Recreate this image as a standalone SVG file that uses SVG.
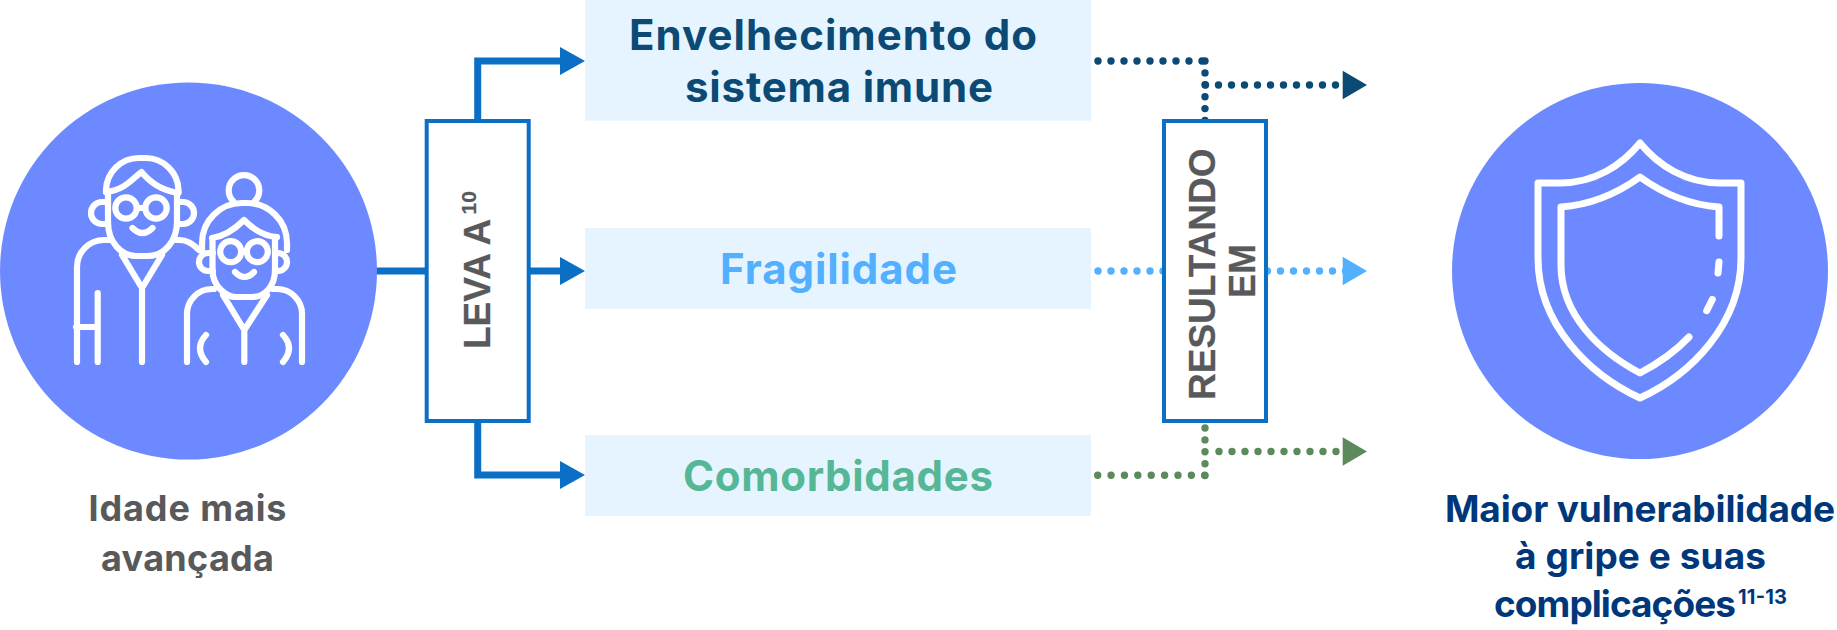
<svg xmlns="http://www.w3.org/2000/svg" width="1837" height="630" viewBox="0 0 1837 630">
<style>
text{font-family:"Inter","Liberation Sans",sans-serif;font-weight:700}
.big{font-size:42px;text-anchor:middle}
.lab{font-size:36px;fill:#58595b;text-anchor:middle}
.res{font-size:37px;fill:#00377b}
.sup{font-size:20px;fill:#00377b}
.vert{font-family:"Liberation Sans",sans-serif;font-size:37px;fill:#58595b;stroke:#58595b;stroke-width:.25}
.circle{fill:#6d89ff}
.band{fill:#e6f4ff}
.box{fill:#fff;stroke:#0b6fc6;stroke-width:4}
.icon{fill:none;stroke:#fff;stroke-width:6.2;stroke-linecap:round;stroke-linejoin:round}
.solid{fill:none;stroke:#0b6fc6;stroke-width:7}
.dot{fill:none;stroke-width:7.4;stroke-linecap:round;stroke-dasharray:0 13}
.dotv{fill:none;stroke-width:7.4;stroke-linecap:round;stroke-dasharray:0 11.9}
</style>
<g id="connectors">
<path class="solid" d="M376,271H426M530,271H562M477.7,119V61H562M477.7,423V475H562"/>
<path fill="#0b6fc6" d="M560,47L585,61L560,75ZM560,257L585,271L560,285ZM560,461L585,475L560,489Z"/>
<path class="dot" stroke="#0b4a75" d="M1098,61H1205"/>
<path class="dotv" stroke="#0b4a75" d="M1205,61V122"/>
<path class="dot" stroke="#0b4a75" d="M1205.5,85H1340"/>
<path fill="#0b4a75" d="M1342.7,70.7L1367,85L1342.7,99.3Z"/>
<path class="dot" stroke="#53b0ff" d="M1098,271H1165"/>
<path class="dot" stroke="#53b0ff" d="M1267.5,271H1346"/>
<path fill="#53b0ff" d="M1342.7,256.7L1367,271L1342.7,285.3Z"/>
<path class="dot" stroke="#5d8a5c" style="stroke-dasharray:0 13.38" d="M1097.7,475.3H1205"/>
<path class="dotv" stroke="#5d8a5c" d="M1205,428V476"/>
<path class="dot" stroke="#5d8a5c" d="M1219,451.5H1337"/>
<path fill="#5d8a5c" d="M1342.7,437.3L1367,451.5L1342.7,465.7Z"/>
</g>
<g id="node-idade">
<circle class="circle" cx="188.5" cy="271" r="188.5"/>
<g class="icon">
<path d="M106,192V190A33,33 0 0 1 139,158H146A33,33 0 0 1 178.5,190V192"/>
<path d="M106,192C125,190 133,178 141.5,172C150,182 160,190 178.5,193"/>
<path d="M108,192V222C108,243 122,256 136,256H148C165,256 177,240 177,222V192"/>
<path d="M108,202H102A11,11 0 0 0 102,224H108M177,202H183A11,11 0 0 1 183,224H177"/>
<circle cx="126" cy="208" r="10.7"/><circle cx="156" cy="208" r="10.7"/>
<path d="M137,208H145M132.5,228Q142.5,238 152.5,228"/>
<path d="M110,240H104A27,27 0 0 0 77,267V362M97.7,293V362M76,327H97.7"/>
<path d="M122,255L142,288L162,255M142,288V362"/>
<path d="M175,240H180C188,240 194,245 199,250"/>
<path d="M233,201A15.3,15.3 0 1 1 255,201"/>
<path d="M202,250V243A40,40 0 0 1 242,203H247A40,40 0 0 1 287,243V250"/>
<path d="M212,238C226,236 236,228 244,220C252,228 262,236 277,237"/>
<path d="M212.5,238V270C212.5,286 226,297 236,297H252C265,297 275,286 275,270V238"/>
<path d="M213,253H208A9,9 0 0 0 208,271H213M275,253H278A9,9 0 0 1 278,271H275"/>
<circle cx="230.7" cy="251.7" r="10.5"/><circle cx="257.3" cy="251.7" r="10.5"/>
<path d="M241.2,251.7H246.8M235,272Q244.5,282 254,272"/>
<path d="M214,289H212A25,25 0 0 0 187,314V362M273,289H277A25,25 0 0 1 302,314V362"/>
<path d="M223,295L244.3,330L267,295M244.3,330V362"/>
<path d="M206,335Q194,348 206,362M283,335Q295,348 283,362"/>
</g>
<text class="lab"><tspan x="187.5" y="521" textLength="198">Idade mais</tspan><tspan x="187.5" y="571" textLength="173">avançada</tspan></text>
</g>
<g id="node-leva">
<rect class="box" x="426.7" y="121" width="102" height="300"/>
<text class="vert" transform="translate(490,349) rotate(-90)">LEVA A</text>
<text class="vert" style="font-size:21px;stroke-width:.2" transform="translate(475.7,214.5) rotate(-90)">10</text>
</g>
<g id="node-envelhecimento">
<rect class="band" x="585" y="0" width="506" height="120.7"/>
<text class="big" fill="#0b4a75"><tspan x="833" y="50" textLength="408">Envelhecimento do</tspan><tspan x="839" y="102" textLength="308">sistema imune</tspan></text>
</g>
<g id="node-fragilidade">
<rect class="band" x="585" y="228" width="506" height="81"/>
<text class="big" fill="#53b0ff" x="838.5" y="283.5" textLength="237">Fragilidade</text>
</g>
<g id="node-comorbidades">
<rect class="band" x="585" y="435" width="506" height="81"/>
<text class="big" fill="#55b795" x="838" y="491" textLength="310">Comorbidades</text>
</g>
<g id="node-resultando">
<rect class="box" x="1164" y="121" width="102" height="300"/>
<text class="vert" transform="translate(1215,400) rotate(-90)">RESULTANDO</text>
<text class="vert" transform="translate(1255,298) rotate(-90)" style="font-size:36px">EM</text>
</g>
<g id="node-vulnerabilidade">
<circle class="circle" cx="1640" cy="271" r="188"/>
<g class="icon" style="stroke-width:7">
<path d="M1640,143C1622,165 1595,183 1560,183H1538V258C1538,325 1590,375 1640,398C1690,375 1741,325 1741,258V183H1720C1685,183 1658,165 1640,143Z"/>
<path d="M1719,236V207C1690,205 1665,195 1640,177C1615,195 1590,205 1561,207V265C1561,315 1600,352 1640,373C1657,364 1675,352 1689,337"/>
<path d="M1719,262L1718,273M1712.3,299.5L1706.7,310.7"/>
</g>
<text class="res" x="1445" y="521.7" textLength="390">Maior vulnerabilidade</text>
<text class="res" x="1515" y="569" textLength="251">à gripe e suas</text>
<text class="res" x="1494" y="616.7" textLength="242">complicações</text>
<text class="sup" x="1738" y="604" textLength="49">11-13</text>
</g>
</svg>
